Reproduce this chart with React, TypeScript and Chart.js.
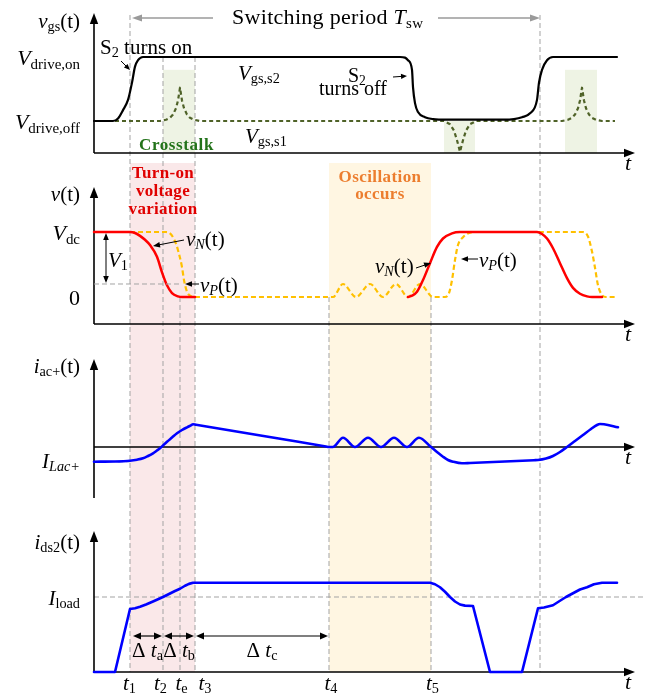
import { useEffect, useRef } from 'react';
import { Chart, registerables } from 'chart.js';

Chart.register(...registerables);

const SERIF = '"Liberation Serif", "Times New Roman", Times, serif';
const W = 653;
const H = 696;

// ---------------- DATA ----------------
// time axis in arbitrary units (0 = origin of the t axis)
const timeRange = [0, 541];
const markerNames = ['1', '2', 'e', '3', '4', '5'];
const markerTimes = [36, 69, 86, 101, 235, 337];
const periodStart = 36;
const periodEnd = 446;
const crosstalkWindows = [[69, 101], [350, 381], [471, 503]];
const crosstalkTops = [0.8, 0, 0.8];

// Panel 1: gate-source voltages (Vdrive,off = 0, Vdrive,on = 1)
const vgsS2 = [[0, 0], [19, 0], [24, 0.04], [29, 0.17], [34, 0.33], [38, 0.6], [41, 0.85], [44, 0.95], [49, 1], [306, 1], [311, 0.99], [314, 0.95], [318, 0.8], [319, 0.53], [321, 0.28], [324, 0.14], [331, 0.06], [339, 0.03], [353, 0.02], [410, 0.02], [420, 0.03], [428, 0.06], [436, 0.12], [443, 0.33], [445, 0.6], [448, 0.8], [453, 0.95], [459, 1], [523, 1]];
const vgsS1 = [[0, 0], [66, 0], [72, 0.02], [76, 0.05], [79, 0.1], [82, 0.2], [84, 0.32], [86, 0.52], [88, 0.32], [90, 0.2], [93, 0.1], [96, 0.05], [100, 0.02], [106, 0], [350, 0], [356, -0.05], [360, -0.15], [363, -0.3], [366, -0.48], [369, -0.3], [372, -0.15], [376, -0.05], [382, 0], [468, 0], [474, 0.02], [478, 0.05], [481, 0.1], [484, 0.2], [486, 0.32], [488, 0.52], [490, 0.32], [492, 0.2], [495, 0.1], [498, 0.05], [502, 0.02], [508, 0], [521, 0]];

// Panel 2: node voltages (0 .. Vdc = 1)
const vN1 = [[0, 1], [36, 1], [41, 0.985], [46, 0.94], [51, 0.88], [56, 0.8], [63, 0.62], [68, 0.38], [73, 0.18], [78, 0.06], [84, 0.01], [88, 0], [101, 0]];
const vN2 = [[314, 0], [318, 0.02], [323, 0.08], [329, 0.26], [336, 0.52], [343, 0.77], [349, 0.9], [358, 0.98], [366, 1], [443, 1], [448, 0.97], [453, 0.9], [459, 0.75], [466, 0.52], [473, 0.29], [479, 0.14], [486, 0.05], [493, 0.01], [498, 0], [508, 0]];
const vP = [[36, 1], [72, 1], [76, 0.98], [79, 0.92], [82, 0.82], [84, 0.72], [88, 0.46], [90, 0.26], [93, 0.08], [96, 0.02], [100, 0], [235, 0], [239, 0], [249, 0.2], [262, 0], [276, 0.2], [289, 0], [302, 0.2], [314, 0], [326, 0.2], [339, 0], [351, 0], [355, 0.06], [358, 0.26], [361, 0.57], [364, 0.8], [369, 0.92], [376, 0.99], [383, 1], [489, 1], [494, 0.93], [498, 0.7], [501, 0.45], [504, 0.18], [508, 0.03], [512, 0], [523, 0]];
const v1Level = 0.2;

// Panel 3: inductor current iac+ (arbitrary units)
const iacPos = [[0, -1.47], [20, -1.45], [36, -1.37], [43, -1.27], [49, -1.13], [54, -0.9], [59, -0.63], [63, -0.35], [66, -0.13], [73, 0.53], [78, 0.95], [83, 1.37], [88, 1.7], [93, 1.97], [97, 2.17], [99, 2.27], [102, 2.22], [168, 1.13], [232, 0.05], [235, 0], [239, 0], [249, 0.93], [261, 0], [274, 0.93], [287, 0], [300, 0.93], [313, 0], [325, 0.93], [337, 0], [343, -0.5], [349, -0.97], [354, -1.3], [359, -1.47], [368, -1.63], [376, -1.6], [440, -1.32], [444, -1.3], [452, -1.15], [459, -0.9], [466, -0.5], [473, 0], [481, 0.6], [489, 1.2], [497, 1.8], [503, 2.2], [506, 2.3], [510, 2.27], [524, 1.97]];
const iLacLevel = -1.47;

// Panel 4: drain-source current ids2 (Iload = 1)
const ids2 = [[0, 0], [21, 0], [36, 0.84], [41, 0.85], [46, 0.87], [52, 0.9], [59, 0.94], [64, 0.97], [69, 1.0], [75, 1.04], [81, 1.08], [86, 1.11], [91, 1.15], [95, 1.175], [99, 1.19], [336, 1.19], [341, 1.17], [346, 1.13], [351, 1.07], [356, 1.0], [361, 0.94], [366, 0.9], [371, 0.885], [379, 0.88], [396, 0], [428, 0], [444, 0.85], [450, 0.86], [459, 0.89], [466, 0.95], [472, 1.0], [479, 1.05], [486, 1.1], [493, 1.13], [500, 1.17], [508, 1.19], [523, 1.19]];
const iLoadLevel = 1;

// ---------------- DRAW HELPERS ----------------
type Run = { t: string; i?: boolean; b?: boolean; s?: boolean };

function rich(ctx: CanvasRenderingContext2D, runs: Run[], x: number, y: number, size: number, align = 'left', color = '#000', spacing = 0) {
  ctx.save();
  ctx.fillStyle = color;
  ctx.textAlign = 'left';
  ctx.textBaseline = 'alphabetic';
  (ctx as any).letterSpacing = spacing + 'px';
  const sub = size * 0.68;
  const font = (r: Run) => `${r.i ? 'italic ' : ''}${r.b ? 'bold ' : ''}${r.s ? sub : size}px ${SERIF}`;
  const widths = runs.map((r) => { ctx.font = font(r); return ctx.measureText(r.t).width; });
  const total = widths.reduce((a, b) => a + b, 0);
  let cx = align === 'left' ? x : align === 'right' ? x - total : x - total / 2;
  runs.forEach((r, k) => {
    ctx.font = font(r);
    ctx.fillText(r.t, cx, y + (r.s ? size * 0.16 : 0));
    cx += widths[k];
  });
  ctx.restore();
}

function seg(ctx: CanvasRenderingContext2D, x1: number, y1: number, x2: number, y2: number, color = '#000', w = 1, dash: number[] = []) {
  ctx.save();
  ctx.strokeStyle = color;
  ctx.lineWidth = w;
  ctx.setLineDash(dash);
  ctx.beginPath();
  ctx.moveTo(x1, y1);
  ctx.lineTo(x2, y2);
  ctx.stroke();
  ctx.restore();
}

function head(ctx: CanvasRenderingContext2D, x: number, y: number, ang: number, len = 8, half = 3.2, color = '#000') {
  ctx.save();
  ctx.translate(x, y);
  ctx.rotate(ang);
  ctx.beginPath();
  ctx.moveTo(0, 0);
  ctx.lineTo(-len, -half);
  ctx.lineTo(-len, half);
  ctx.closePath();
  ctx.fillStyle = color;
  ctx.fill();
  ctx.restore();
}

function arrow(ctx: CanvasRenderingContext2D, x1: number, y1: number, x2: number, y2: number, color = '#000', w = 1, len = 7, half = 2.8) {
  const a = Math.atan2(y2 - y1, x2 - x1);
  seg(ctx, x1, y1, x2 - Math.cos(a) * (len - 1), y2 - Math.sin(a) * (len - 1), color, w);
  head(ctx, x2, y2, a, len, half, color);
}

function dblArrow(ctx: CanvasRenderingContext2D, x1: number, y1: number, x2: number, y2: number, color = '#000', w = 1.2, len = 8, half = 3.3) {
  const a = Math.atan2(y2 - y1, x2 - x1);
  seg(ctx, x1 + Math.cos(a) * (len - 1), y1 + Math.sin(a) * (len - 1), x2 - Math.cos(a) * (len - 1), y2 - Math.sin(a) * (len - 1), color, w);
  head(ctx, x2, y2, a, len, half, color);
  head(ctx, x1, y1, a + Math.PI, len, half, color);
}

const X = (c: Chart, v: number) => c.scales.x.getPixelForValue(v);
const Y = (c: Chart, v: number) => c.scales.y.getPixelForValue(v);

function axes(c: Chart, xAxisAt: number) {
  const ctx = c.ctx;
  const { left, right, top, bottom } = c.chartArea;
  const y0 = Y(c, xAxisAt);
  seg(ctx, left, top + 8, left, bottom, '#000', 1.6);
  head(ctx, left, top, -Math.PI / 2, 11, 4.2);
  seg(ctx, left, y0, right - 8, y0, '#000', 1.6);
  head(ctx, right, y0, 0, 11, 4.2);
  rich(ctx, [{ t: 't', i: true }], 628, y0 + 17, 22, 'center');
}

const GRID = '#a3a3a3';
const SHADE_TOP = 163;
const SHADE_BOTTOM = 672;
const markerTopPx = [15, 57, 297, 57, 297, 297];
const markerLabelDx = [-0.5, -2.5, 1.5, 10, 2, 1.5];

function globalUnderlay(c: Chart) {
  const ctx = c.ctx;
  const xt = markerTimes.map((t) => X(c, t));
  ctx.save();
  ctx.fillStyle = '#fae8e9';
  ctx.fillRect(xt[0], SHADE_TOP, xt[3] - xt[0], SHADE_BOTTOM - SHADE_TOP);
  ctx.fillStyle = '#fff6e2';
  ctx.fillRect(xt[4], SHADE_TOP, xt[5] - xt[4], SHADE_BOTTOM - SHADE_TOP);
  ctx.fillStyle = '#eef3e4';
  crosstalkWindows.forEach(([a, b], k) => {
    const yTop = Y(c, crosstalkTops[k]);
    ctx.fillRect(X(c, a), yTop, X(c, b) - X(c, a), c.chartArea.bottom - yTop);
  });
  ctx.restore();
  xt.forEach((x, k) => seg(ctx, x, markerTopPx[k], x, SHADE_BOTTOM, GRID, 1, [5, 3]));
  seg(ctx, X(c, periodEnd), 15, X(c, periodEnd), SHADE_BOTTOM, GRID, 1, [5, 3]);
}

// ---------------- PANELS ----------------
const ds = (pts: number[][], color: string, width: number, dash: number[], mono: boolean) => ({
  data: pts.map(([x, y]) => ({ x, y })),
  borderColor: color,
  borderWidth: width,
  borderDash: dash,
  borderCapStyle: dash.length ? 'butt' : 'round',
  borderJoinStyle: 'round',
  pointRadius: 0,
  fill: false,
  tension: 0,
  cubicInterpolationMode: mono ? 'monotone' : 'default',
  clip: false,
});

const PANELS = [
  {
    top: 13, bottom: 153, yMin: -0.5, yMax: 1.6875, xAxisAt: -0.5,
    datasets: [ds(vgsS2, '#000000', 2.2, [], true), ds(vgsS1, '#4f6228', 2.2, [4, 3], false)],
    under: globalUnderlay,
    draw: (c: Chart) => {
      const ctx = c.ctx;
      rich(ctx, [{ t: 'v', i: true }, { t: 'gs', s: true }, { t: '(t)' }], 80, 28, 21, 'right');
      rich(ctx, [{ t: 'V', i: true }, { t: 'drive,on', s: true }], 80, Y(c, 1) + 8, 22, 'right');
      rich(ctx, [{ t: 'V', i: true }, { t: 'drive,off', s: true }], 80, Y(c, 0) + 8, 22, 'right');
      rich(ctx, [{ t: 'S' }, { t: '2', s: true }, { t: ' turns on' }], 100, 54, 21);
      arrow(ctx, 121, 61, 130, 70, '#000', 1, 6, 2.6);
      rich(ctx, [{ t: 'V', i: true }, { t: 'gs,s2', s: true }], 238, 80, 21);
      rich(ctx, [{ t: 'S' }, { t: '2', s: true }], 348, 82, 20);
      rich(ctx, [{ t: 'turns off' }], 319, 95, 20);
      arrow(ctx, 393, 77, 407, 76, '#000', 1, 6, 2.6);
      rich(ctx, [{ t: 'V', i: true }, { t: 'gs,s1', s: true }], 245, 143, 21);
      rich(ctx, [{ t: 'Crosstalk', b: true }], 139, 150, 17, 'left', '#23731a', 0.6);
      rich(ctx, [{ t: 'Switching period ' }, { t: 'T', i: true }, { t: 'sw', s: true }], 232, 24, 22, 'left', '#000', 0.3);
      arrow(ctx, 213, 18, X(c, periodStart) + 2, 18, '#9a9a9a', 1.5, 10, 3.6);
      arrow(ctx, 438, 18, X(c, periodEnd), 18, '#9a9a9a', 1.5, 10, 3.6);
    },
  },
  {
    top: 187, bottom: 324, yMin: -0.4154, yMax: 1.6923, xAxisAt: -0.4154,
    datasets: [ds(vN1, '#ff0000', 2.5, [], true), ds(vN2, '#ff0000', 2.5, [], true), ds(vP, '#ffc000', 2.2, [5, 3], true)],
    under: null,
    draw: (c: Chart) => {
      const ctx = c.ctx;
      rich(ctx, [{ t: 'v', i: true }, { t: '(t)' }], 80, 201, 21, 'right');
      rich(ctx, [{ t: 'V', i: true }, { t: 'dc', s: true }], 80, Y(c, 1) + 8, 22, 'right');
      rich(ctx, [{ t: '0' }], 80, Y(c, 0) + 8, 22, 'right');
      const yv1 = Y(c, v1Level);
      seg(ctx, c.chartArea.left, yv1, X(c, markerTimes[2]), yv1, GRID, 1, [5, 3]);
      dblArrow(ctx, 106, Y(c, 1) + 1, 106, yv1 - 1, '#000', 1, 7, 2.8);
      rich(ctx, [{ t: 'V', i: true }, { t: '1', s: true }], 108, 267, 21);
      ['Turn-on', 'voltage', 'variation'].forEach((s, k) =>
        rich(ctx, [{ t: s, b: true }], 163, 178 + k * 18, 17, 'center', '#e00000', 0.3));
      ['Oscillation', 'occurs'].forEach((s, k) =>
        rich(ctx, [{ t: s, b: true }], 380, 182 + k * 17, 17, 'center', '#ec7d2e', 0.4));
      rich(ctx, [{ t: 'v', i: true }, { t: 'N', i: true, s: true }, { t: '(t)' }], 186, 246, 21);
      arrow(ctx, 184, 240, 153, 246);
      rich(ctx, [{ t: 'v', i: true }, { t: 'P', i: true, s: true }, { t: '(t)' }], 200, 292, 21);
      arrow(ctx, 199, 284, 185, 284);
      rich(ctx, [{ t: 'v', i: true }, { t: 'N', i: true, s: true }, { t: '(t)' }], 375, 273, 21);
      arrow(ctx, 416, 268, 431, 263);
      rich(ctx, [{ t: 'v', i: true }, { t: 'P', i: true, s: true }, { t: '(t)' }], 479, 267, 21);
      arrow(ctx, 478, 259, 461, 259);
    },
  },
  {
    top: 359, bottom: 498, yMin: -5.1, yMax: 8.8, xAxisAt: 0,
    datasets: [ds(iacPos, '#0000ff', 2.6, [], true)],
    under: (c: Chart) => {
      const y = Y(c, iLacLevel);
      seg(c.ctx, c.chartArea.left, y, X(c, markerTimes[0]), y, GRID, 1, [5, 3]);
    },
    draw: (c: Chart) => {
      const ctx = c.ctx;
      rich(ctx, [{ t: 'i', i: true }, { t: 'ac+', s: true }, { t: '(t)' }], 80, 373, 21, 'right');
      rich(ctx, [{ t: 'I', i: true }, { t: 'Lac+', i: true, s: true }], 80, Y(c, iLacLevel) + 6, 21, 'right');
    },
  },
  {
    top: 531, bottom: 672, yMin: 0, yMax: 1.88, xAxisAt: 0,
    datasets: [ds(ids2, '#0000ff', 2.6, [], false)],
    under: (c: Chart) => {
      const y = Y(c, iLoadLevel);
      seg(c.ctx, c.chartArea.left, y, 643, y, GRID, 1, [5, 3]);
    },
    draw: (c: Chart) => {
      const ctx = c.ctx;
      rich(ctx, [{ t: 'i', i: true }, { t: 'ds2', s: true }, { t: '(t)' }], 80, 549, 21, 'right');
      rich(ctx, [{ t: 'I', i: true }, { t: 'load', s: true }], 80, Y(c, iLoadLevel) + 8, 21, 'right');
      const xt = markerTimes.map((t) => X(c, t));
      const ya = 636;
      const spans = [[xt[0] + 3, xt[1] - 1, 'a'], [xt[1] + 1, xt[3] - 1, 'b'], [xt[3] + 1, xt[4] - 1, 'c']];
      spans.forEach(([a, b, s]) => {
        dblArrow(ctx, a as number, ya, b as number, ya, '#000', 1.2, 8, 3.4);
        rich(ctx, [{ t: 'Δ ' }, { t: 't', i: true }, { t: s as string, s: true }], ((a as number) + (b as number)) / 2, 657, 21, 'center');
      });
      xt.forEach((x, k) => {
        rich(ctx, [{ t: 't', i: true }, { t: markerNames[k], s: true }], x + markerLabelDx[k], 690, 21, 'center');
      });
    },
  },
];

function makeChart(canvas: HTMLCanvasElement, p: any) {
  return new Chart(canvas, {
    type: 'line',
    data: { datasets: p.datasets },
    options: {
      animation: false,
      responsive: false,
      maintainAspectRatio: false,
      events: [],
      layout: { padding: { left: 94, right: W - 635, top: p.top, bottom: H - p.bottom } },
      plugins: { legend: { display: false }, tooltip: { enabled: false }, title: { display: false } },
      scales: {
        x: { type: 'linear', display: false, min: timeRange[0], max: timeRange[1] },
        y: { type: 'linear', display: false, min: p.yMin, max: p.yMax },
      },
    },
    plugins: [
      {
        id: 'panelDeco',
        beforeDatasetsDraw(c: Chart) {
          if (p.under) p.under(c);
          axes(c, p.xAxisAt);
        },
        afterDatasetsDraw(c: Chart) {
          p.draw(c);
        },
      },
    ],
  } as any);
}

export default function App() {
  const r0 = useRef<HTMLCanvasElement>(null);
  const r1 = useRef<HTMLCanvasElement>(null);
  const r2 = useRef<HTMLCanvasElement>(null);
  const r3 = useRef<HTMLCanvasElement>(null);
  const refs = [r0, r1, r2, r3];
  useEffect(() => {
    const charts = PANELS.map((p, i) => makeChart(refs[i].current as HTMLCanvasElement, p));
    return () => charts.forEach((c) => c.destroy());
  }, []);
  return (
    <div style={{ position: 'absolute', left: 0, top: 0, width: W, height: H, background: '#fff' }}>
      {PANELS.map((_, i) => (
        <canvas key={i} ref={refs[i]} width={W} height={H} style={{ position: 'absolute', left: 0, top: 0, width: W, height: H }} />
      ))}
    </div>
  );
}
